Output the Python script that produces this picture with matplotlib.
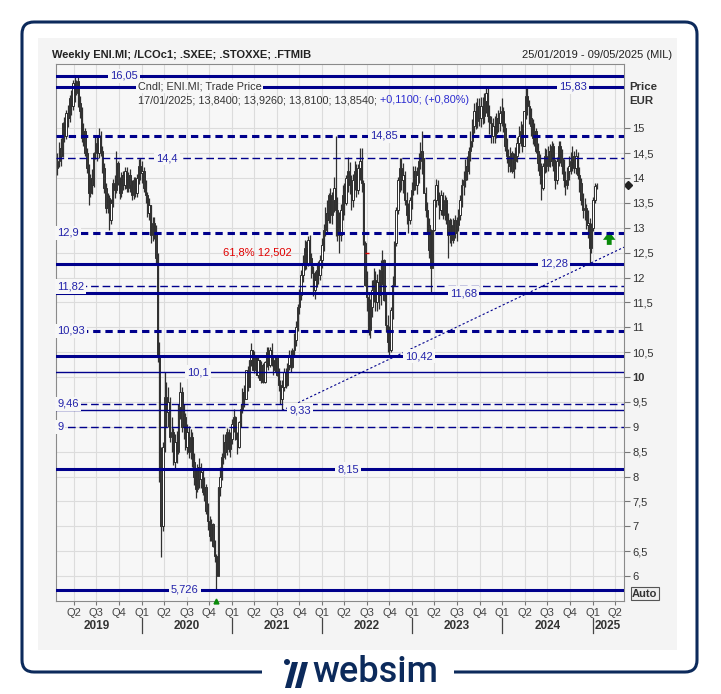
import numpy as np
import pandas as pd
import matplotlib
matplotlib.use('Agg')
import matplotlib.pyplot as plt
import matplotlib.dates as mdates
from matplotlib.patches import FancyBboxPatch, Rectangle, Polygon, Circle
from matplotlib.transforms import blended_transform_factory

plt.rcParams['font.family'] = ['Liberation Sans', 'DejaVu Sans']

# weekly closes of ENI.MI (Fridays, 25/01/2019 -> 17/01/2025)
close_2019 = [14.35, 14.6, 14.45, 15.1, 14.85, 15.3, 15.2, 15.6, 15.45, 15.9, 15.7, 15.95, 15.5,
              15.35, 14.8, 14.95, 14.5, 14.2, 13.7, 14.0, 13.85, 14.5, 14.7, 14.5, 14.85, 14.55,
              14.2, 13.8, 13.4, 13.6, 13.15, 13.5, 13.9, 13.75, 14.3, 13.9, 13.7, 14.05, 13.85,
              14.15, 13.8, 14.05, 13.85, 13.65, 13.95, 13.7, 14.0, 14.25, 14.1]
close_2020 = [14.15, 13.8, 13.65, 13.3, 13.45, 12.85, 13.1, 12.9, 12.4, 10.4, 8.2, 7.0, 8.6, 9.6,
              9.3, 9.5, 8.8, 8.9, 8.3, 8.7, 8.5, 9.4, 9.7, 9.0, 9.2, 8.6, 8.9, 8.5, 8.8, 8.3, 8.0,
              7.75, 8.2, 7.95, 8.1, 7.7, 7.8, 7.3, 7.1, 6.8, 7.05, 6.6, 6.4, 6.0, 7.8, 8.0, 8.4,
              8.7, 8.5, 8.9, 8.55, 8.75]
close_2021 = [9.05, 9.2, 8.75, 8.6, 9.1, 9.35, 9.7, 9.55, 10.15, 9.8, 10.35, 10.55, 10.15, 10.45,
              10.05, 10.35, 9.95, 10.25, 9.9, 10.3, 10.5, 10.25, 10.55, 10.35, 10.15, 10.4, 10.05,
              9.85, 9.55, 9.8, 10.1, 9.85, 10.25, 10.45, 10.2, 10.55, 10.75, 11.0, 11.4, 11.65,
              12.05, 12.3, 12.6, 12.3, 12.75, 12.4, 12.1, 11.75, 11.95, 12.15, 12.05, 12.35]
close_2022 = [12.65, 12.95, 13.3, 13.15, 13.65, 13.25, 13.55, 13.8, 13.35, 13.0, 12.85, 13.35,
              13.65, 13.5, 14.0, 14.15, 13.85, 13.55, 13.95, 14.15, 13.75, 14.2, 14.35, 13.9, 12.7,
              11.85, 11.6, 10.95, 11.4, 11.75, 11.95, 11.5, 11.9, 11.65, 12.15, 12.35, 11.55,
              11.05, 10.7, 10.55, 11.35, 11.85, 12.7, 13.35, 13.95, 14.2, 13.95, 14.05, 13.55,
              13.25, 13.15, 13.55]
close_2023 = [13.75, 14.15, 13.85, 14.05, 14.35, 14.55, 14.4, 13.7, 13.35, 13.05, 12.55, 12.2,
              12.95, 13.55, 13.85, 13.55, 13.35, 13.65, 13.25, 13.55, 13.15, 12.85, 13.05, 12.75,
              13.15, 12.9, 13.05, 13.25, 13.55, 13.85, 13.95, 14.25, 14.15, 14.55, 14.75, 15.05,
              15.35, 15.15, 15.45, 15.2, 15.45, 15.25, 15.55, 15.7, 15.25, 15.1, 14.85, 15.05,
              14.9, 15.2, 15.1, 15.3]
close_2024 = [15.35, 15.0, 14.65, 14.45, 14.25, 14.5, 14.15, 14.35, 14.45, 14.7, 14.85, 14.95,
              14.65, 15.35, 15.65, 15.45, 15.2, 15.05, 14.8, 14.95, 14.55, 14.3, 14.05, 13.8,
              14.25, 14.45, 14.25, 14.55, 14.35, 14.65, 14.2, 13.95, 14.35, 14.65, 14.4, 14.25,
              13.95, 13.85, 14.15, 14.25, 14.35, 14.45, 14.2, 14.45, 14.05, 13.9, 13.55, 13.35,
              13.4, 13.05, 13.1, 12.6]
close_2025 = [13.0, 13.55, 13.84, 13.854]
first_open = 14.2

# weekly high-low range, in cents
range_2019 = [45, 50, 55, 70, 50, 60, 45, 55, 50, 60, 55, 30, 60, 45, 70, 45, 55, 50, 65, 45,
              50, 70, 45, 50, 55, 50, 55, 60, 60, 40, 55, 50, 55, 45, 65, 50, 45, 50, 40, 45,
              50, 40, 45, 40, 45, 40, 45, 50, 45]
range_2020 = [45, 50, 45, 50, 45, 60, 50, 45, 80, 220, 280, 200, 180, 120, 90, 80, 90, 70, 75,
              70, 65, 100, 80, 90, 70, 75, 60, 65, 60, 70, 65, 60, 55, 60, 50, 55, 50, 60, 55,
              50, 45, 50, 45, 50, 180, 60, 55, 60, 50, 55, 45, 50]
range_2021 = [50, 45, 50, 45, 55, 45, 50, 45, 55, 50, 50, 45, 40, 45, 40, 45, 40, 45, 40, 45,
              40, 45, 40, 45, 40, 35, 40, 45, 50, 55, 45, 40, 45, 40, 45, 40, 45, 50, 55, 50,
              60, 55, 60, 55, 60, 55, 50, 60, 55, 50, 45, 50]
range_2022 = [60, 55, 60, 65, 60, 70, 65, 70, 150, 90, 80, 75, 70, 65, 60, 70, 65, 70, 65, 60,
              65, 60, 65, 80, 130, 90, 80, 85, 80, 75, 70, 80, 75, 80, 90, 80, 85, 80, 75, 80,
              90, 85, 90, 80, 75, 70, 65, 60, 70, 65, 60, 55]
range_2023 = [55, 60, 50, 55, 60, 55, 80, 70, 60, 65, 80, 120, 70, 65, 55, 50, 55, 50, 55, 50,
              55, 60, 50, 55, 50, 45, 50, 45, 50, 55, 50, 55, 50, 55, 60, 55, 60, 55, 60, 55,
              60, 55, 60, 65, 70, 60, 55, 50, 55, 50, 45, 50]
range_2024 = [55, 50, 55, 50, 45, 50, 45, 50, 45, 50, 55, 50, 55, 60, 65, 55, 50, 55, 50, 45,
              50, 55, 60, 75, 55, 50, 45, 50, 45, 50, 55, 60, 55, 50, 45, 50, 55, 50, 45, 50,
              45, 50, 45, 50, 55, 50, 55, 50, 45, 50, 55, 70]
range_2025 = [60, 70, 40, 12]

# week index -> extreme of the wick
wick_high = {10: 16.05, 24: 15.0, 34: 14.55, 62: 10.1, 71: 9.9, 161: 14.85, 176: 14.6,
             188: 12.55, 198: 14.4, 211: 14.95, 248: 15.83, 271: 15.83}
wick_low = {18: 13.45, 30: 12.95, 54: 12.7, 60: 6.39, 92: 5.726, 130: 9.33, 163: 12.5,
            192: 10.42, 216: 11.68, 226: 12.4, 280: 13.55, 308: 12.28}

# support / resistance levels
levels = [16.05, 15.83, 14.85, 14.4, 12.9, 12.28, 11.82, 11.68, 10.93, 10.42, 10.1, 9.46, 9.33,
          9.0, 8.15, 5.726]
level_labels = ['16,05', '15,83', '14,85', '14,4', '12,9', '12,28', '11,82', '11,68', '10,93',
                '10,42', '10,1', '9,46', '9,33', '9', '8,15', '5,726']

# trendline through the lows (week index, price)
trend_pts = [(130, 9.33), (308, 12.28)]

title = 'Weekly ENI.MI; /LCOc1; .SXEE; .STOXXE; .FTMIB'
range_text = '25/01/2019 - 09/05/2025 (MIL)'

closes = close_2019 + close_2020 + close_2021 + close_2022 + close_2023 + close_2024 + close_2025
ranges = range_2019 + range_2020 + range_2021 + range_2022 + range_2023 + range_2024 + range_2025
dates = pd.date_range('2019-01-25', periods=len(closes), freq='7D')
xd = mdates.date2num(dates)
c = np.array(closes)
o = np.array([first_open] + closes[:-1])
rng = np.array(ranges) / 100.0
ext = np.clip(rng - np.abs(c - o), 0, None) / 2
hi = np.maximum(o, c) + ext
lo = np.minimum(o, c) - ext
for k, v in wick_high.items():
    hi[k] = v
for k, v in wick_low.items():
    lo[k] = v

navy = '#00008c'
lab_blue = '#2222aa'
bgcol = '#f7f7f7'
brand = '#0c2a5b'

fig = plt.figure(figsize=(7.21, 6.94), dpi=100)

# card background in pixel coordinates
bg = fig.add_axes([0, 0, 1, 1], zorder=0)
bg.set_xlim(0, 721)
bg.set_ylim(694, 0)
bg.axis('off')
bg.add_patch(FancyBboxPatch((22, 22), 675, 650, boxstyle='round,pad=0,rounding_size=12',
                            fc='white', ec=brand, lw=2.2))
bg.add_patch(Rectangle((38, 38), 639, 612, fc='#f4f4f4', ec='none'))
bg.add_patch(Rectangle((262, 662), 192, 20, fc='white', ec='none'))
bg.add_patch(Circle((287, 662), 3.0, fc=brand, ec='none'))
bg.add_patch(Polygon([(285, 688), (291, 688), (298, 662), (292, 662)], fc=brand, ec='none'))
bg.add_patch(Polygon([(295, 688), (301, 688), (308, 662), (302, 662)], fc=brand, ec='none'))
bg.text(312, 673, 'websim', fontsize=26, color=brand, family='Roboto', weight='medium',
        ha='left', va='center')
bg.text(52, 55, title, fontsize=8, weight='bold', color='#222222', va='center')
bg.text(672, 55, range_text, fontsize=8, color='#222222', va='center', ha='right')

ax = fig.add_axes([56 / 721, 1 - 601 / 694, 568 / 721, 537 / 694], zorder=1)
ax.set_facecolor(bgcol)
ax.set_xlim(mdates.date2num(pd.Timestamp('2019-01-19')), mdates.date2num(pd.Timestamp('2025-05-08')))
ax.set_ylim(5.5, 16.29)

# ticks and grid
qticks = pd.date_range('2019-04-01', '2025-04-01', freq='QS')
ax.set_xticks(mdates.date2num(qticks))
ax.set_xticklabels(['Q%d' % ((d.month - 1) // 3 + 1) for d in qticks])
yt = np.arange(6, 15.01, 0.5)
ax.set_yticks(yt)
ax.set_yticklabels([('%g' % v).replace('.', ',') for v in yt])
ax.yaxis.tick_right()
ax.tick_params(axis='y', length=4, colors='#777777', labelcolor='#333333', labelsize=8, pad=2)
ax.tick_params(axis='x', length=3, colors='#777777', labelcolor='#444444', labelsize=8, pad=2)
for lab in ax.get_yticklabels():
    if lab.get_text() == '10':
        lab.set_fontweight('bold')
ax.grid(True, color='#dcdcdc', lw=0.8)
ax.set_axisbelow(True)
for s in ax.spines.values():
    s.set_color('#8a8a8a')

tx = blended_transform_factory(ax.transAxes, ax.transData)
tb = blended_transform_factory(ax.transData, ax.transAxes)

# candles
ax.vlines(xd, lo, hi, color='#303030', lw=0.9, zorder=5)
up = c >= o
ax.bar(xd[up], (c - o)[up], bottom=o[up], width=5.5, color='white', edgecolor='#303030',
       lw=0.7, zorder=6)
ax.bar(xd[~up], (c - o)[~up], bottom=o[~up], width=5.5, color='#3a3a3a', edgecolor='#303030',
       lw=0.7, zorder=6)

# horizontal levels (drawn over the candles)
thick = [True, True, True, False, True, True, False, True, True, True, False, False, False,
         False, True, True]
dashed = [False, False, True, True, True, False, True, False, True, False, False, True, False,
          True, False, False]
lab_x = [0.12, 0.91, 0.577, 0.195, None, 0.877, None, 0.718, None, 0.639, 0.25, None, 0.43,
         None, 0.514, 0.227]
for lv, lb, tk, ds, lx in zip(levels, level_labels, thick, dashed, lab_x):
    lw = 2.2 if tk else 1.0
    line, = ax.plot([0, 1], [lv, lv], transform=tx, color=navy, lw=lw, zorder=7)
    if ds:
        line.set_dashes((2.4, 1.6) if tk else (5.5, 2.8))
    if lx is None:
        ax.text(0.002, lv, lb, transform=tx, ha='left', va='center', fontsize=8, color=lab_blue,
                zorder=8, bbox=dict(fc=bgcol, ec='none', pad=1.5))
    else:
        ax.text(lx, lv, lb, transform=tx, ha='center', va='center', fontsize=8, color=lab_blue,
                zorder=8, bbox=dict(fc=bgcol, ec='none', pad=1.5))

# trendline extended to the right edge
(i0, p0), (i1, p1) = trend_pts
slope = (p1 - p0) / (xd[i1] - xd[i0])
xr = ax.get_xlim()[1]
ax.plot([xd[i0], xr], [p0, p0 + slope * (xr - xd[i0])], color=navy, lw=0.8,
        ls=(0, (2, 2)), zorder=7)

# fibonacci label
ax.text(0.354, 12.502, '61,8% 12,502', transform=tx, ha='center', va='center', fontsize=8,
        color='#e00000', zorder=8)
ax.plot([0.548], [12.502], transform=tx, marker='_', ms=3, color='#e00000', zorder=8)

# info text
t1 = ax.text(0.144, 15.83, 'Cndl; ENI.MI; Trade Price', transform=tx, ha='left', va='center',
             fontsize=7.8, color='#333333', zorder=9, bbox=dict(fc=bgcol, ec='none', pad=1))
t2 = ax.text(0.144, 15.56, '17/01/2025; 13,8400; 13,9260; 13,8100; 13,8540;', transform=tx,
             ha='left', va='center', fontsize=7.8, color='#333333', zorder=9)
ax.annotate('+0,1100; (+0,80%)', xy=(1, 0.5), xycoords=t2, xytext=(2.5, 0),
            textcoords='offset points', ha='left', va='center', fontsize=7.8, color='#2a2ad0',
            zorder=9)

# markers
ax.plot([1.007], [c[-1]], transform=tx, marker='D', ms=4.5, color='#222222', clip_on=False)
ax.annotate('', xy=(0.974, 12.98), xytext=(0.974, 12.6), xycoords=tx, textcoords=tx,
            arrowprops=dict(arrowstyle='simple,head_width=0.9,head_length=0.6,tail_width=0.35',
                            color='#0a8a0a', lw=0))
ax.plot([xd[92]], [0.0], transform=tb, marker='^', ms=3.5, color='#0a8a0a', clip_on=False,
        zorder=9)

# year labels and separators
for yr in range(2019, 2026):
    if yr < 2025:
        ax.text(mdates.date2num(pd.Timestamp('%d-07-02' % yr)), -0.047, str(yr), transform=tb,
                ha='center', va='center', fontsize=8.5, weight='bold', color='#333333')
    else:
        ax.text(mdates.date2num(pd.Timestamp('2025-01-08')), -0.047, str(yr), transform=tb,
                ha='left', va='center', fontsize=8.5, weight='bold', color='#333333')
    if yr > 2019:
        xs = mdates.date2num(pd.Timestamp('%d-01-01' % yr))
        ax.plot([xs, xs], [-0.031, -0.06], transform=tb, color='#444444', lw=0.9, clip_on=False)

# right side captions
ax.text(1.01, 15.83, 'Price', transform=tx, ha='left', va='center', fontsize=8.2,
        weight='bold', color='#333333')
ax.text(1.01, 15.55, 'EUR', transform=tx, ha='left', va='center', fontsize=8.2,
        weight='bold', color='#333333')
ax.text(1.014, 5.65, 'Auto', transform=tx, ha='left', va='center', fontsize=8,
        weight='bold', color='#333333', bbox=dict(fc='#eeeeee', ec='#555555', pad=1, lw=0.8))

fig.savefig('out.png', dpi=100)
